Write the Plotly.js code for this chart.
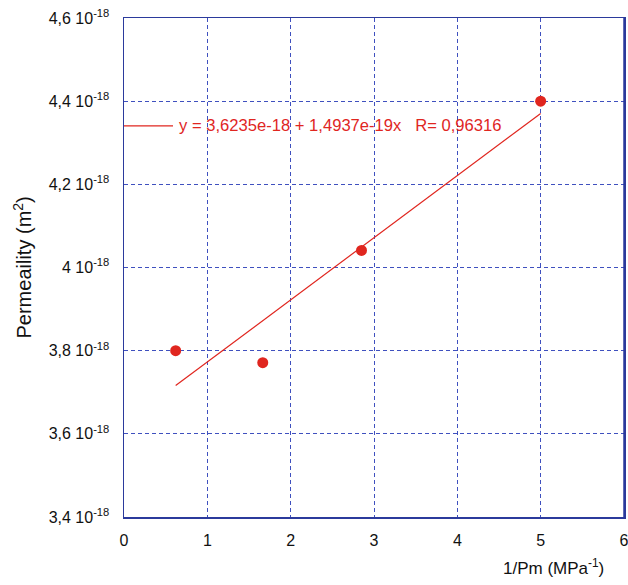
<!DOCTYPE html>
<html>
<head>
<meta charset="utf-8">
<script src="https://cdn.plot.ly/plotly-3.0.1.min.js"></script>
<style>html,body{margin:0;padding:0;background:#fff;}#chart{width:628px;height:585px;}</style>
</head>
<body>
<div id="chart"></div>
<script>
const invPm = [0.62, 1.665, 2.85, 5.0];
const permeability = [3.80e-18, 3.771e-18, 4.041e-18, 4.40e-18];
const fitIntercept = 3.6235e-18;
const fitSlope = 1.4937e-19;
const fitLabel = 'y = 3,6235e-18 + 1,4937e-19x   R= 0,96316';
const xTickVals = [0, 1, 2, 3, 4, 5, 6];
const yTickVals = [3.4e-18, 3.6e-18, 3.8e-18, 4.0e-18, 4.2e-18, 4.4e-18, 4.6e-18];
const yTickText = ['3,4 10<sup>-18</sup>', '3,6 10<sup>-18</sup>', '3,8 10<sup>-18</sup>', '4 10<sup>-18</sup>', '4,2 10<sup>-18</sup>', '4,4 10<sup>-18</sup>', '4,6 10<sup>-18</sup>'];

const fitX = [Math.min(...invPm), Math.max(...invPm)];
const fitY = fitX.map(x => fitIntercept + fitSlope * x);

const red = '#e0261f';
const blue = '#2b3a9c';
const fontFam = 'Liberation Sans, Arial, sans-serif';

const traces = [
  {x: fitX, y: fitY, mode: 'lines', line: {color: red, width: 1.2}, hoverinfo: 'skip', showlegend: false},
  {x: invPm, y: permeability, mode: 'markers', marker: {color: red, size: 11, symbol: 'circle'}, showlegend: false}
];

const axisCommon = {
  showline: true, linecolor: blue, linewidth: 1.5, mirror: true,
  showgrid: true, gridcolor: '#3f50bf', griddash: '4px,3px', gridwidth: 1,
  zeroline: false, ticks: '', ticklabeloverflow: 'allow',
  tickfont: {family: fontFam, size: 16, color: '#111'}
};

const layout = {
  width: 628, height: 585,
  margin: {l: 124, r: 4, t: 18, b: 68},
  paper_bgcolor: '#fff', plot_bgcolor: '#fff',
  showlegend: false,
  xaxis: Object.assign({}, axisCommon, {
    range: [0, 6], tickvals: xTickVals, ticktext: xTickVals.map(String), ticklabelstandoff: 8
  }),
  yaxis: Object.assign({}, axisCommon, {
    range: [3.4e-18, 4.6e-18], tickvals: yTickVals, ticktext: yTickText, ticklabelstandoff: 10
  }),
  shapes: [
    {type: 'line', xref: 'paper', yref: 'paper', x0: 0, x1: 0.098, y0: 0.784, y1: 0.784, line: {color: red, width: 1.2}},
    {type: 'line', xref: 'paper', yref: 'paper', x0: 1, x1: 1, y0: 0, y1: 1, line: {color: blue, width: 1.5}}
  ],
  annotations: [
    {xref: 'paper', yref: 'paper', x: 0.105, y: 0.784, xanchor: 'left', yanchor: 'middle', showarrow: false,
     text: fitLabel, font: {family: fontFam, size: 16.6, color: red}},
    {xref: 'paper', yref: 'paper', x: -0.204, y: 0.5, xanchor: 'center', yanchor: 'middle', showarrow: false, textangle: -90,
     text: 'Permeaility (m<sup>2</sup>)', font: {family: fontFam, size: 20, color: '#111'}},
    {xref: 'paper', yref: 'paper', x: 0.963, y: -0.1, xanchor: 'right', yanchor: 'middle', showarrow: false,
     text: '1/Pm (MPa<sup>-1</sup>)', font: {family: fontFam, size: 17, color: '#111'}}
  ]
};

Plotly.newPlot('chart', traces, layout, {displayModeBar: false, staticPlot: true});
</script>
</body>
</html>
